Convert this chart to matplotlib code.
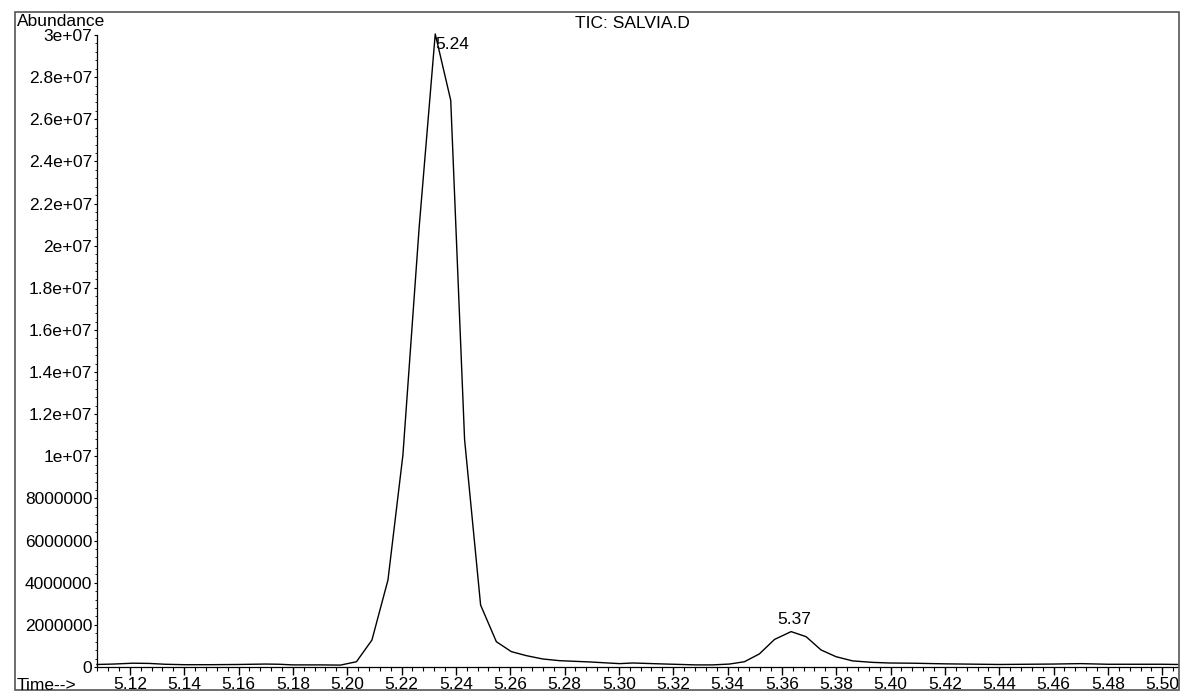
import matplotlib.pyplot as plt
from matplotlib.ticker import AutoMinorLocator, FixedLocator, FixedFormatter
from matplotlib.patches import Rectangle

plt.rcParams['font.family'] = ['Liberation Sans', 'DejaVu Sans']

# TIC trace (time in min, abundance)
time = [5.1079, 5.1140, 5.1210, 5.1270, 5.1330, 5.1400, 5.1500, 5.1600,
        5.1700, 5.1750, 5.1800, 5.1900, 5.1975, 5.2034, 5.2091, 5.2150,
        5.2205, 5.2265, 5.2324, 5.2381, 5.2432, 5.2491, 5.2549, 5.2604,
        5.2659, 5.2720, 5.2782, 5.2892, 5.3002, 5.3051, 5.3174, 5.3284,
        5.3345, 5.3407, 5.3462, 5.3517, 5.3573, 5.3634, 5.3689, 5.3744,
        5.3799, 5.3860, 5.3933, 5.3995, 5.4080, 5.4200, 5.4400, 5.4600,
        5.4700, 5.4800, 5.5000, 5.5058]
abundance = [0.12e6, 0.14e6, 0.18e6, 0.17e6, 0.13e6, 0.11e6, 0.11e6, 0.12e6,
             0.14e6, 0.13e6, 0.10e6, 0.10e6, 0.09e6, 0.25e6, 1.28e6, 4.13e6,
             10.06e6, 20.9e6, 30.05e6, 26.9e6, 10.8e6, 2.94e6, 1.20e6, 0.73e6,
             0.54e6, 0.38e6, 0.30e6, 0.24e6, 0.16e6, 0.19e6, 0.14e6, 0.10e6,
             0.10e6, 0.14e6, 0.25e6, 0.62e6, 1.31e6, 1.68e6, 1.44e6, 0.81e6,
             0.49e6, 0.29e6, 0.22e6, 0.19e6, 0.18e6, 0.15e6, 0.12e6, 0.14e6,
             0.16e6, 0.13e6, 0.13e6, 0.12e6]

peak_labels = ['5.24', '5.37']
peak_times = [5.2324, 5.3634]
peak_heights = [30.05e6, 1.68e6]

xticks = [5.12, 5.14, 5.16, 5.18, 5.20, 5.22, 5.24, 5.26, 5.28, 5.30,
          5.32, 5.34, 5.36, 5.38, 5.40, 5.42, 5.44, 5.46, 5.48, 5.50]
yticks = [0, 2e6, 4e6, 6e6, 8e6, 10e6, 12e6, 14e6, 16e6, 18e6, 20e6,
          22e6, 24e6, 26e6, 28e6, 30e6]
ytick_labels = ['0', '2000000', '4000000', '6000000', '8000000', '1e+07',
                '1.2e+07', '1.4e+07', '1.6e+07', '1.8e+07', '2e+07', '2.2e+07',
                '2.4e+07', '2.6e+07', '2.8e+07', '3e+07']

W, H = 1180, 697
fig = plt.figure(figsize=(W / 100, H / 100), dpi=100)
ax = fig.add_axes([97 / W, (H - 667) / H, (1178 - 97) / W, (667 - 35) / H])

ax.plot(time, abundance, color='black', lw=1.0, clip_on=False)

ax.set_xlim(5.1079, 5.5058)
ax.set_ylim(0, 30e6)
ax.xaxis.set_major_locator(FixedLocator(xticks))
ax.set_xticklabels(['%.2f' % v for v in xticks])
ax.xaxis.set_minor_locator(AutoMinorLocator(5))
ax.yaxis.set_major_locator(FixedLocator(yticks))
ax.yaxis.set_major_formatter(FixedFormatter(ytick_labels))
ax.yaxis.set_minor_locator(AutoMinorLocator(5))

ax.tick_params(axis='x', which='major', direction='out', length=5.5, width=1,
               labelsize=12.5, pad=2)
ax.tick_params(axis='x', which='minor', direction='out', length=3, width=0.8)
ax.tick_params(axis='y', which='major', direction='out', length=2.5, width=0.8,
               labelsize=12.5, pad=1)
ax.tick_params(axis='y', which='minor', direction='out', length=1.5, width=0.6)

for side in ['top', 'right']:
    ax.spines[side].set_visible(False)
for side in ['left', 'bottom']:
    ax.spines[side].set_linewidth(0.9)

# peak annotations
ax.annotate(peak_labels[0], (peak_times[0], peak_heights[0]),
            xytext=(0, -2), textcoords='offset points',
            ha='left', va='top', fontsize=12.5, annotation_clip=False)
ax.annotate(peak_labels[1], (peak_times[1], peak_heights[1]),
            xytext=(2, 3), textcoords='offset points',
            ha='center', va='bottom', fontsize=12.5, annotation_clip=False)

# page-style frame and header texts
fig.patches.append(Rectangle((15 / W, (H - 690) / H), (1179 - 15) / W,
                             (690 - 12) / H, transform=fig.transFigure,
                             fill=False, ec='#555555', lw=1.2))
fig.text(17 / W, 1 - 22 / H, 'Abundance', fontsize=12.5, ha='left', va='center')
fig.text(632 / W, 1 - 23 / H, 'TIC: SALVIA.D', fontsize=12.5, ha='center',
         va='center')
fig.text(17 / W, 1 - 686 / H, 'Time-->', fontsize=12.5, ha='left', va='center')

fig.savefig('out.png', dpi=100)
